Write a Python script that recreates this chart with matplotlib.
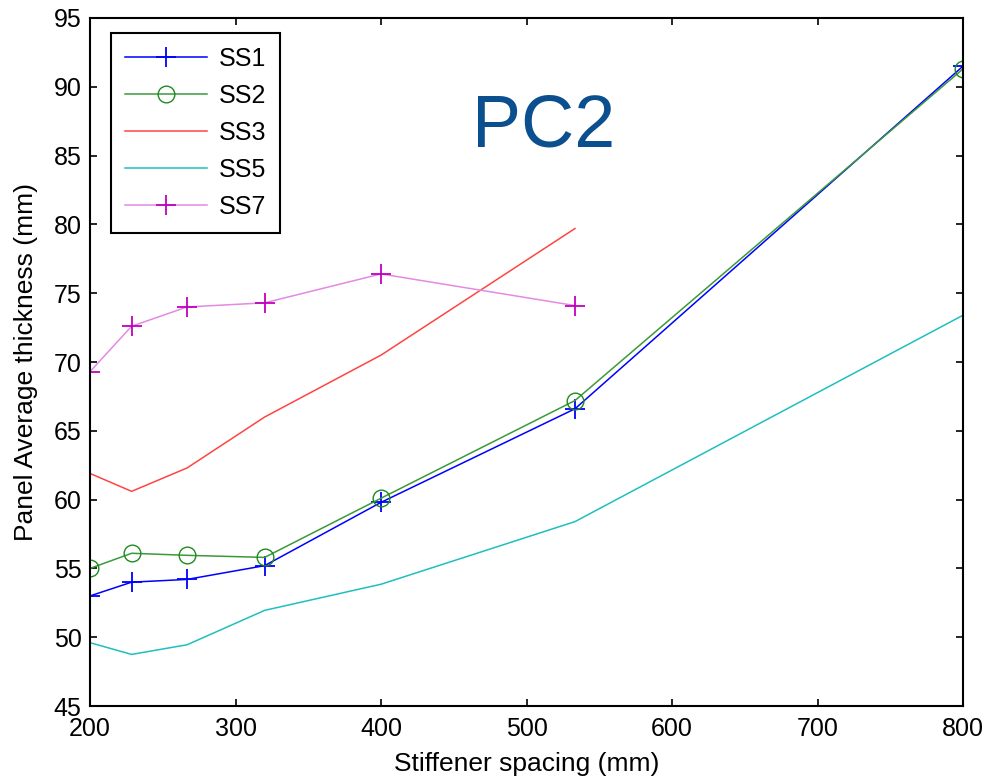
import matplotlib.pyplot as plt

plt.rcParams['font.family'] = ['Liberation Sans', 'DejaVu Sans']

# stiffener spacing (mm): 1600 mm panel divided into n bays
spacing = [200, 228.6, 266.7, 320, 400, 533.3, 800]

ss1 = [53.0, 54.0, 54.2, 55.2, 59.8, 66.6, 91.5]
ss2 = [55.0, 56.1, 55.95, 55.8, 60.1, 67.2, 91.3]
ss3 = [61.9, 60.6, 62.3, 66.0, 70.5, 79.7]
ss5 = [49.6, 48.75, 49.45, 51.95, 53.85, 58.4, 73.4]
ss7 = [69.3, 72.6, 74.0, 74.3, 76.4, 74.1]

fig = plt.figure(figsize=(9.86, 7.79), dpi=100)
ax = fig.add_axes([0.0913, 0.0937, 0.8854, 0.8832])

ax.plot(spacing, ss1, color='#0000ff', lw=1.1, marker='+', ms=14, mew=1.3, label='SS1')
ax.plot(spacing, ss2, color='#3a9a3a', lw=1.1, marker='o', ms=12, mew=1.0,
        mfc='none', mec='#1f8a1f', label='SS2')
ax.plot(spacing[:6], ss3, color='#ff4444', lw=1.1, label='SS3')
ax.plot(spacing, ss5, color='#1fbfbf', lw=1.1, label='SS5')
ax.plot(spacing[:6], ss7, color='#e38ae3', lw=1.1, marker='+', ms=14, mew=1.3,
        mec='#c000c0', label='SS7')

ax.text(512, 87.1, 'PC2', fontsize=53, color='#0b4f8f', ha='center', va='center')

ax.set_xlim(200, 800)
ax.set_ylim(45, 95)
ax.set_xticks([200, 300, 400, 500, 600, 700, 800])
ax.set_yticks(range(45, 96, 5))
ax.tick_params(direction='in', top=True, right=True, length=5, width=1.2, labelsize=18)
ax.tick_params(axis='x', pad=8)
ax.tick_params(axis='y', pad=6)
for s in ax.spines.values():
    s.set_linewidth(1.5)

ax.set_xlabel('Stiffener spacing (mm)', fontsize=19, labelpad=8)
ax.set_ylabel('Panel Average thickness (mm)', fontsize=19, labelpad=11)

leg = ax.legend(loc='upper left', bbox_to_anchor=(0.024, 0.978), fontsize=18,
                fancybox=False, framealpha=1, edgecolor='black', handlelength=3.3,
                handletextpad=0.45, borderpad=0.55, labelspacing=0.52, borderaxespad=0)
leg.get_frame().set_linewidth(1.5)

fig.savefig('out.png', dpi=100)
